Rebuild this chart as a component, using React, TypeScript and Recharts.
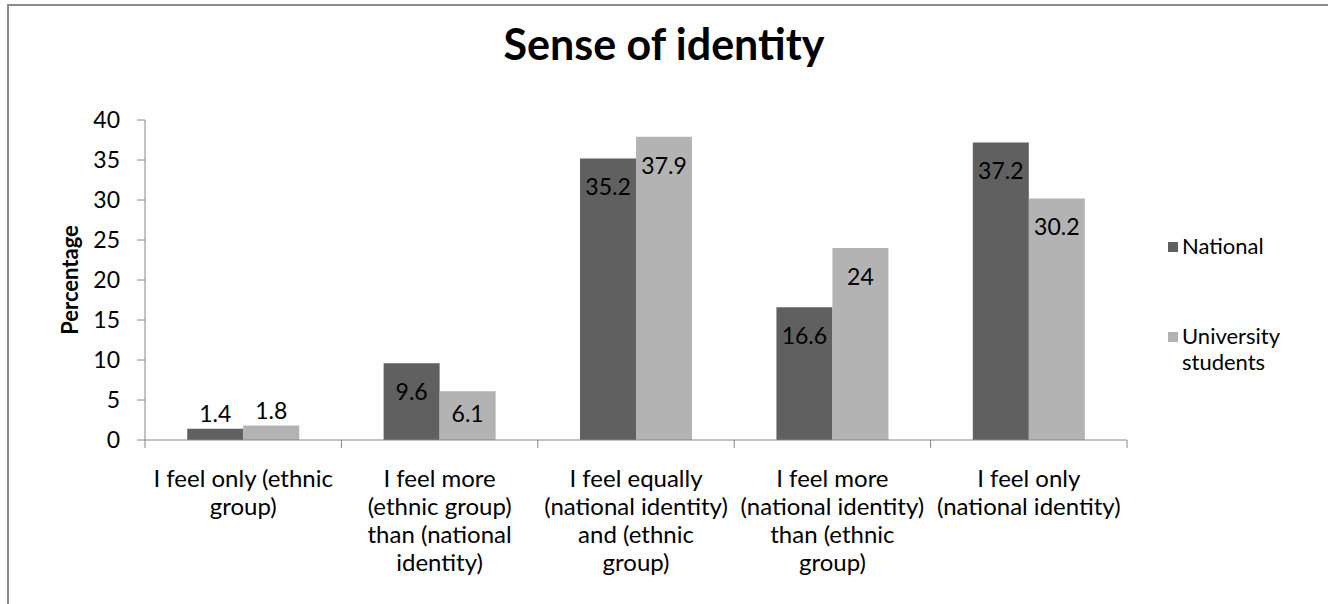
import React from "react";
import {
  BarChart,
  Bar,
  XAxis,
  YAxis,
  Legend,
  LabelList,
  Label
} from "recharts";

const categories = [
  "I feel only (ethnic group)",
  "I feel more (ethnic group) than (national identity)",
  "I feel equally (national identity) and (ethnic group)",
  "I feel more (national identity) than (ethnic group)",
  "I feel only (national identity)"
];

const categoryLines = [
  ["I feel only (ethnic", "group)"],
  ["I feel more", "(ethnic group)", "than (national", "identity)"],
  ["I feel equally", "(national identity)", "and (ethnic", "group)"],
  ["I feel more", "(national identity)", "than (ethnic", "group)"],
  ["I feel only", "(national identity)"]
];

const national = [1.4, 9.6, 35.2, 16.6, 37.2];
const university = [1.8, 6.1, 37.9, 24, 30.2];
const yTicks = [0, 5, 10, 15, 20, 25, 30, 35, 40];

const data = categories.map((c, i) => ({
  name: c,
  national: national[i],
  university: university[i]
}));

const FONT = "Lato, 'Open Sans', sans-serif";
const DARK = "#606060";
const LIGHT = "#b3b3b3";
const AXIS = "#868686";

const W = 1328;
const H = 604;
const PLOT_R = 1127;
const PLOT_L = 145;
const BAND = (PLOT_R - PLOT_L) / categories.length;

function CatTick(props: any) {
  const { x, y, payload, index } = props;
  const lines = categoryLines[payload.index ?? index] || [payload.value];
  return (
    <g>
      <line x1={x - BAND / 2} x2={x - BAND / 2} y1={y - 8} y2={y} stroke={AXIS} />
      {index === categories.length - 1 && (
        <line x1={x + BAND / 2} x2={x + BAND / 2} y1={y - 8} y2={y} stroke={AXIS} />
      )}
      <text x={x} y={y} textAnchor="middle" fontFamily={FONT} fontSize={24} fill="#000">
        {lines.map((l, i) => (
          <tspan key={i} x={x} dy={i === 0 ? 39 : 28}>{l}</tspan>
        ))}
      </text>
    </g>
  );
}

function BarValue(props: any) {
  const { x, y, width, height, value } = props;
  const cx = x + width / 2;
  const cy = height < 30 ? y - 15 : y + Math.min(29, height / 2 - 2);
  return (
    <text x={cx} y={cy} dy="0.35em" textAnchor="middle" fontFamily={FONT} fontSize={23} fill="#000">
      {value}
    </text>
  );
}

function LegendBox() {
  const items = [
    { color: DARK, lines: ["National"] },
    { color: LIGHT, lines: ["University", "students"] }
  ];
  return (
    <div style={{ fontFamily: FONT, fontSize: 22, color: "#000", lineHeight: "26px", textAlign: "left" }}>
      {items.map((it, i) => (
        <div key={i} style={{ display: "flex", alignItems: "flex-start", marginBottom: i === 0 ? 64 : 0 }}>
          <div style={{ width: 10, height: 10, background: it.color, marginTop: 9, marginRight: 4 }} />
          <div>
            {it.lines.map((l) => (
              <div key={l}>{l}</div>
            ))}
          </div>
        </div>
      ))}
    </div>
  );
}

export default function App() {
  return (
    <div style={{ position: "absolute", left: 0, top: 0, width: W, height: H, overflow: "hidden", background: "#fff" }}>
      <div
        style={{
          position: "absolute",
          left: 7,
          top: 4,
          width: W,
          height: H,
          borderLeft: "2px solid #8c8c8c",
          borderTop: "2px solid #8c8c8c"
        }}
      />
      <div
        style={{
          position: "absolute",
          left: 0,
          width: W,
          top: 18,
          textAlign: "center",
          fontFamily: FONT,
          fontWeight: 700,
          fontSize: 43
        }}
      >
        Sense of identity
      </div>
      <div style={{ position: "absolute", left: 0, top: 0 }}>
        <BarChart
          width={W}
          height={H}
          data={data}
          margin={{ top: 120, right: W - PLOT_R, left: PLOT_L - 60, bottom: 34 }}
          barCategoryGap="21.5%"
          barGap={0}
        >
          <XAxis
            dataKey="name"
            interval={0}
            height={130}
            tick={<CatTick />}
            tickLine={false}
            axisLine={{ stroke: AXIS }}
          />
          <YAxis
            width={60}
            domain={[0, 40]}
            ticks={yTicks}
            interval={0}
            tickSize={8}
            tickMargin={17}
            tick={{ fontFamily: FONT, fontSize: 23, fill: "#000" }}
            tickLine={{ stroke: AXIS }}
            axisLine={{ stroke: AXIS }}
          >
            <Label
              content={(p: any) => {
                const vb = p.viewBox || {};
                const cy = (vb.y ?? 120) + (vb.height ?? 320) / 2;
                return (
                  <text
                    x={70}
                    y={cy}
                    transform={`rotate(-90 70 ${cy})`}
                    textAnchor="middle"
                    dy="0.35em"
                    fontFamily={FONT}
                    fontWeight={700}
                    fontSize={22}
                    fill="#000"
                  >
                    Percentage
                  </text>
                );
              }}
            />
          </YAxis>
          <Legend
            layout="horizontal"
            align="center"
            verticalAlign="middle"
            content={<LegendBox />}
            wrapperStyle={{ left: 1168, top: 233, width: 150 }}
          />
          <Bar dataKey="national" name="National" fill={DARK} isAnimationActive={false}>
            <LabelList dataKey="national" content={<BarValue />} />
          </Bar>
          <Bar dataKey="university" name="University students" fill={LIGHT} isAnimationActive={false}>
            <LabelList dataKey="university" content={<BarValue />} />
          </Bar>
        </BarChart>
      </div>
    </div>
  );
}
